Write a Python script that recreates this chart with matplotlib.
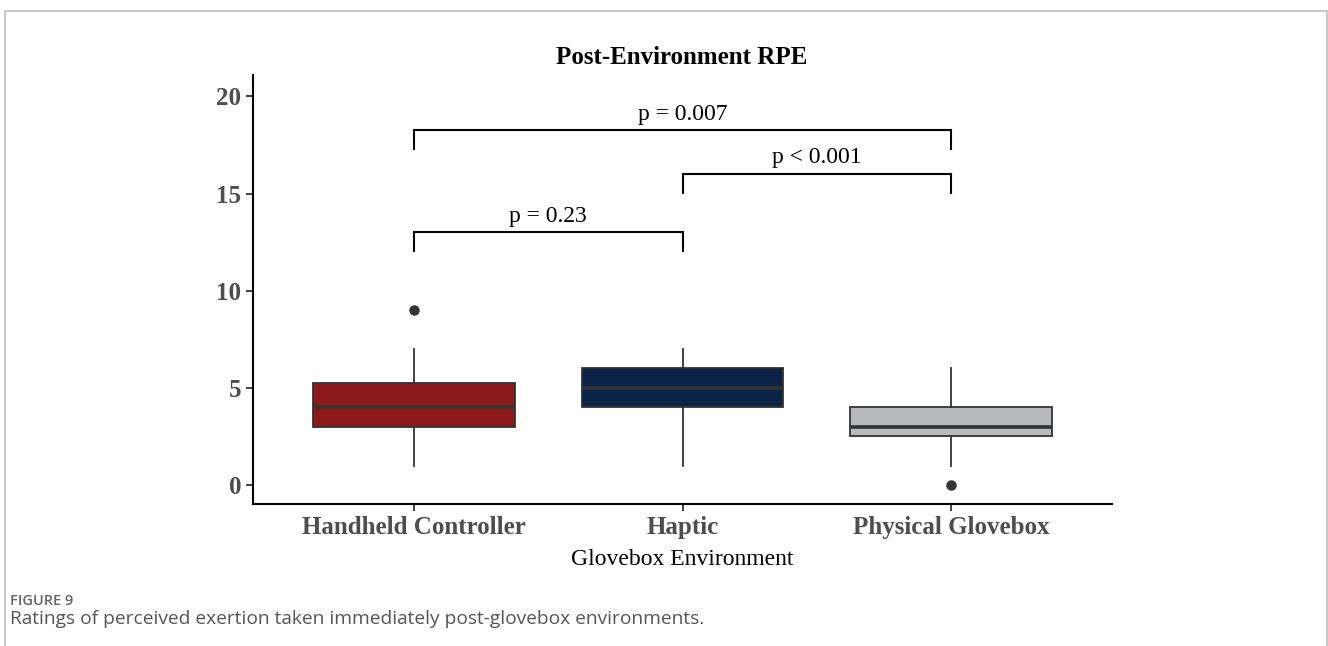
import matplotlib
matplotlib.use("Agg")
import matplotlib.pyplot as plt
from matplotlib.patches import Rectangle

# box statistics
groupes = ["Handheld Controller", "Haptic", "Physical Glovebox"]
q1 = [3, 4, 2.5]
mediane = [4, 5, 3]
q3 = [5.25, 6, 4]
moust_bas = [1, 1, 1]
moust_haut = [7, 7, 6]
aberrants = [[9], [], [0]]
couleurs = ["#8c1a1a", "#0b2347", "#b8b9bd"]

# comparaisons (groupe a, groupe b, hauteur, texte)
comp_a = [1, 2, 1]
comp_b = [2, 3, 3]
comp_y = [13, 16, 18.25]
comp_txt = ["p = 0.23", "p < 0.001", "p = 0.007"]

serif = ["Liberation Serif", "DejaVu Serif"]

fig = plt.figure(figsize=(13.28, 6.46), dpi=100)
ax = fig.add_axes([253 / 1328, 1 - 504 / 646, (1112 - 253) / 1328, (504 - 75) / 646])

stats = []
for i in range(len(groupes)):
    stats.append(dict(q1=q1[i], med=mediane[i], q3=q3[i], whislo=moust_bas[i],
                      whishi=moust_haut[i], fliers=aberrants[i], label=groupes[i]))

bp = ax.bxp(stats, positions=[1, 2, 3], widths=0.75, patch_artist=True, showcaps=False,
            boxprops=dict(edgecolor="#333333", linewidth=1.3),
            medianprops=dict(color="#333333", linewidth=2.6),
            whiskerprops=dict(color="#333333", linewidth=1.3),
            flierprops=dict(marker="o", markerfacecolor="#333333", markeredgecolor="#333333",
                            markersize=6.5))
for patch, c in zip(bp["boxes"], couleurs):
    patch.set_facecolor(c)

# crochets de significativité
for a, b, y, t in zip(comp_a, comp_b, comp_y, comp_txt):
    ax.plot([a, a, b, b], [y - 1, y, y, y - 1], color="black", linewidth=1.5,
            solid_capstyle="butt", solid_joinstyle="miter")
    ax.text((a + b) / 2, y + 0.3, t, ha="center", va="bottom", fontsize=17,
            family=serif, color="black")

ax.set_xlim(0.4, 3.6)
ax.set_ylim(-0.98, 21.1)
ax.set_yticks([0, 5, 10, 15, 20])
ax.set_xticks([1, 2, 3])
ax.set_xticklabels(groupes)
for s in ["top", "right"]:
    ax.spines[s].set_visible(False)
for s in ["left", "bottom"]:
    ax.spines[s].set_linewidth(1.5)
ax.tick_params(axis="both", length=5, width=1.3, color="#333333", labelcolor="#4d4d4d",
               labelsize=18)
for lab in ax.get_xticklabels() + ax.get_yticklabels():
    lab.set_fontfamily(serif)
    lab.set_fontweight("bold")
ax.set_xlabel("Glovebox Environment", fontsize=17, family=serif, labelpad=7)

fig.text(682 / 1328, 1 - 57 / 646, "Post-Environment RPE", ha="center", va="center",
         fontsize=18, fontweight="bold", family=serif)

# légende de la figure
fig.text(10 / 1328, 1 - 605 / 646, "FIGURE 9", ha="left", va="baseline", fontsize=10.5,
         fontweight=600, family="Open Sans", color="#666666")
fig.text(10 / 1328, 1 - 624 / 646,
         "Ratings of perceived exertion taken immediately post-glovebox environments.",
         ha="left", va="baseline", fontsize=13.8, family="Open Sans", color="#555555")

fig.patches.append(Rectangle((4.5 / 1328, -0.1), (1327 - 4.5) / 1328, 1.1 - 11 / 646,
                             transform=fig.transFigure, fill=False, edgecolor="#c8c8c8",
                             linewidth=1.5))

fig.savefig("out.png", dpi=100)
